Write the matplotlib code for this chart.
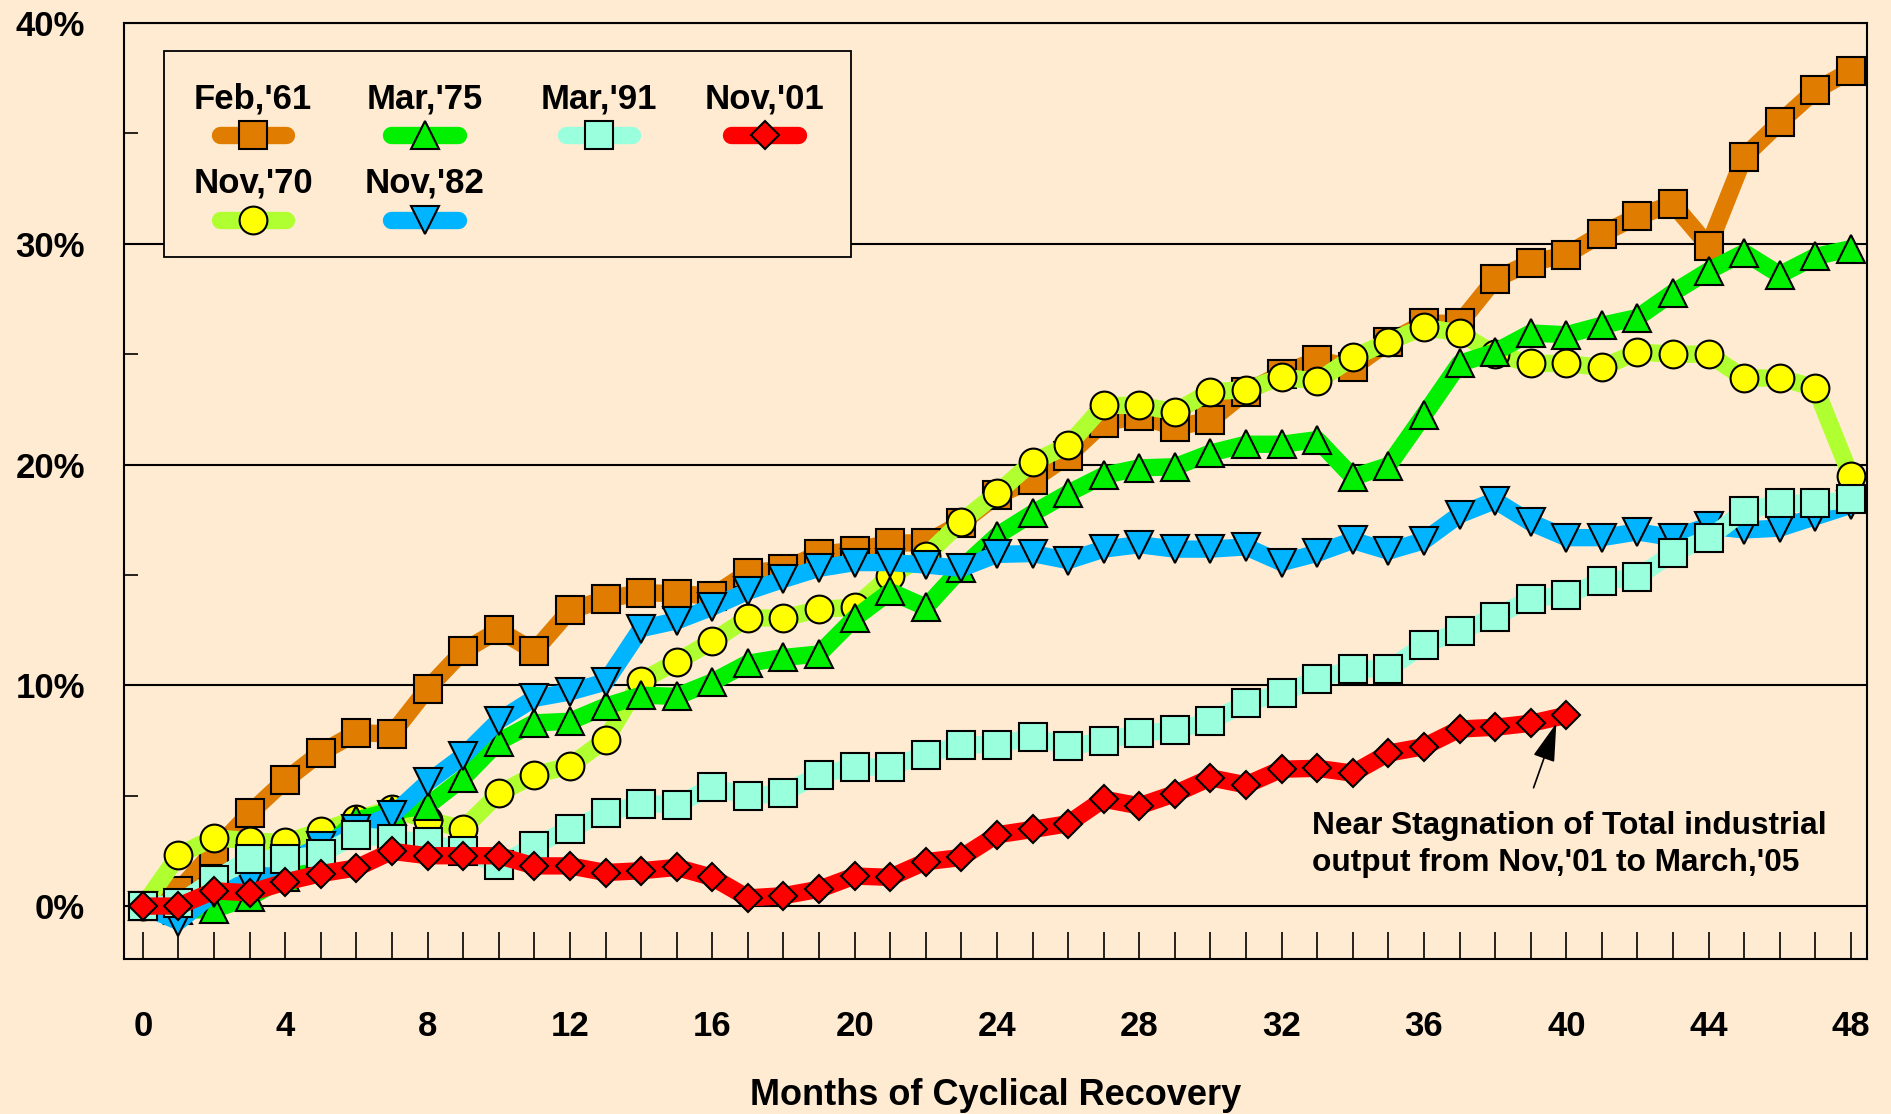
import matplotlib.pyplot as plt
from matplotlib.patches import Rectangle
from matplotlib.ticker import FixedLocator, MultipleLocator

plt.rcParams['font.family'] = ['Liberation Sans', 'DejaVu Sans']
plt.rcParams['font.weight'] = 'bold'

# months of recovery
months = list(range(49))
months_01 = list(range(41))

# cumulative growth of industrial output, in %
feb61 = [0, 0.7, 2.5, 4.2, 5.7, 6.95, 7.85, 7.8, 9.85, 11.55,
         12.5, 11.55, 13.4, 13.9, 14.2, 14.15, 14.05, 15.1, 15.25, 15.95,
         16.1, 16.45, 16.45, 17.35, 18.6, 19.3, 20.4, 21.9, 22.2, 21.7,
         22.0, 23.3, 24.1, 24.75, 24.4, 25.55, 26.4, 26.4, 28.4, 29.15,
         29.5, 30.45, 31.25, 31.8, 29.9, 33.95, 35.5, 36.95, 37.85]
nov70 = [0, 2.3, 3.1, 2.95, 2.88, 3.4, 3.95, 4.4, 3.9, 3.5,
         5.1, 5.94, 6.36, 7.53, 10.2, 11.07, 12.0, 13.05, 13.05, 13.44,
         13.54, 14.96, 15.87, 17.42, 18.7, 20.11, 20.87, 22.68, 22.68, 22.4,
         23.3, 23.39, 23.96, 23.78, 24.85, 25.57, 26.22, 25.96, 25.0, 24.58,
         24.58, 24.4, 25.1, 25.0, 25.0, 23.92, 23.92, 23.48, 19.46]
mar75 = [0, -0.2, -0.15, 0.4, 1.3, 2.4, 3.9, 4.3, 4.55, 5.8,
         7.45, 8.3, 8.37, 9.05, 9.55, 9.5, 10.15, 11.0, 11.26, 11.42,
         13.04, 14.25, 13.54, 15.3, 16.78, 17.79, 18.7, 19.51, 19.85, 19.9,
         20.52, 20.92, 20.92, 21.13, 19.43, 19.95, 22.24, 24.58, 25.1, 25.96,
         25.88, 26.31, 26.66, 27.79, 28.78, 29.6, 28.6, 29.43, 29.78]
nov82 = [0, -0.7, 0.6, 1.1, 2.0, 2.7, 3.5, 4.12, 5.6, 6.8,
         8.4, 9.41, 9.7, 10.15, 12.57, 12.92, 13.54, 14.26, 14.8, 15.3,
         15.56, 15.56, 15.45, 15.3, 15.93, 15.97, 15.65, 16.17, 16.37, 16.17,
         16.17, 16.27, 15.56, 15.98, 16.56, 16.08, 16.55, 17.73, 18.37, 17.38,
         16.69, 16.69, 16.95, 16.69, 17.21, 17.04, 17.12, 17.64, 18.16]
mar91 = [0, 0.15, 1.2, 2.15, 2.15, 2.35, 3.2, 3.05, 2.9, 2.5,
         1.87, 2.74, 3.5, 4.2, 4.64, 4.6, 5.4, 4.97, 5.12, 5.95,
         6.3, 6.3, 6.86, 7.31, 7.31, 7.67, 7.23, 7.47, 7.84, 7.96,
         8.38, 9.19, 9.66, 10.28, 10.74, 10.74, 11.83, 12.45, 13.11, 13.92,
         14.1, 14.72, 14.9, 16.0, 16.66, 17.9, 18.25, 18.25, 18.42]
nov01 = [0, 0, 0.69, 0.6, 1.09, 1.47, 1.73, 2.48, 2.28, 2.28,
         2.28, 1.82, 1.82, 1.52, 1.6, 1.75, 1.3, 0.37, 0.47, 0.76,
         1.36, 1.3, 2.01, 2.2, 3.23, 3.47, 3.73, 4.84, 4.54, 5.09,
         5.81, 5.49, 6.2, 6.24, 6.02, 6.93, 7.22, 8.02, 8.1, 8.28,
         8.64]

y_ticks = [0, 10, 20, 30, 40]
y_tick_labels = ['0%', '10%', '20%', '30%', '40%']
x_ticks = list(range(0, 49, 4))

bg = '#FFEBD2'

# label, x, y, line colour, marker, marker fill, marker size
series = [
    ("Feb,'61", months, feb61, '#E07C00', 's', '#E07C00', 20),
    ("Nov,'70", months, nov70, '#B0FF30', 'o', '#FFFF00', 20),
    ("Mar,'75", months, mar75, '#00F000', '^', '#00F000', 20),
    ("Nov,'82", months, nov82, '#00B4FF', 'v', '#00B4FF', 20),
    ("Mar,'91", months, mar91, '#99FFDD', 's', '#99FFDD', 20),
    ("Nov,'01", months_01, nov01, '#FF0000', 'D', '#FF0000', 14),
]

fig = plt.figure(figsize=(18.91, 11.14), dpi=100, facecolor=bg)
ax = fig.add_axes([0.0656, 0.1391, 0.9217, 0.8402])
ax.set_facecolor(bg)

for i, (lab, x, y, lc, mk, mf, ms) in enumerate(series):
    ax.plot(x, y, color=lc, lw=12.5, marker=mk, ms=ms, mfc=mf, mec='black',
            mew=1.5, solid_joinstyle='round', solid_capstyle='butt',
            zorder=3 + i)

ax.set_xlim(-0.53, 48.45)
ax.set_ylim(-2.4, 40)

ax.xaxis.set_major_locator(FixedLocator(x_ticks))
ax.xaxis.set_minor_locator(MultipleLocator(1))
ax.set_yticks(y_ticks)
ax.set_yticklabels(y_tick_labels)
ax.yaxis.set_minor_locator(FixedLocator([5, 15, 25, 35]))
ax.tick_params(axis='x', which='both', direction='in', length=19.5, width=1.2,
               labelsize=25, pad=37)
ax.tick_params(axis='y', which='both', direction='in', length=10, width=1.2,
               labelsize=25, pad=28)
for lbl in ax.get_xticklabels() + ax.get_yticklabels():
    lbl.set_fontweight('bold')

ax.grid(axis='y', which='major', color='black', lw=1.5)
ax.set_axisbelow(True)
for sp in ax.spines.values():
    sp.set_linewidth(1.5)
    sp.set_color('black')

ax.set_xlabel('Months of Cyclical Recovery', fontsize=26, fontweight='bold',
              labelpad=25)

# legend box, labels above the line samples
ax.add_patch(Rectangle((0.023, 0.75), 0.394, 0.22, transform=ax.transAxes,
                       facecolor=bg, edgecolor='black', lw=1.3, zorder=10))
col_x = [0.074, 0.1724, 0.2725, 0.3675]
text_y = [0.919, 0.829]
handle_y = [0.880, 0.790]
legend_slots = {"Feb,'61": (0, 0), "Mar,'75": (1, 0), "Mar,'91": (2, 0),
                "Nov,'01": (3, 0), "Nov,'70": (0, 1), "Nov,'82": (1, 1)}
for lab, x, y, lc, mk, mf, ms in series:
    c, r = legend_slots[lab]
    cx = col_x[c]
    ax.plot([cx - 0.019, cx + 0.019], [handle_y[r], handle_y[r]],
            transform=ax.transAxes, color=lc, lw=12.5, solid_capstyle='round',
            clip_on=False, zorder=11)
    ax.plot([cx], [handle_y[r]], transform=ax.transAxes, marker=mk, ms=ms,
            mfc=mf, mec='black', mew=1.5, clip_on=False, zorder=12)
    ax.text(cx, text_y[r], lab, transform=ax.transAxes, ha='center',
            va='center', fontsize=25, fontweight='bold', zorder=12)

# note on the 2001 recovery
ax.annotate('', xy=(39.72, 8.28), xytext=(39.08, 5.36),
            arrowprops=dict(arrowstyle='-|>,head_length=1.2,head_width=0.35',
                            mutation_scale=20, lw=1.2, color='black',
                            shrinkA=0, shrinkB=0), zorder=12)
ax.text(32.84, 4.3, "Near Stagnation of Total industrial\noutput from Nov,'01 to March,'05",
        ha='left', va='top', fontsize=22.8, fontweight='bold', linespacing=1.28,
        zorder=12)

fig.savefig('out.png', dpi=100, facecolor=bg)
